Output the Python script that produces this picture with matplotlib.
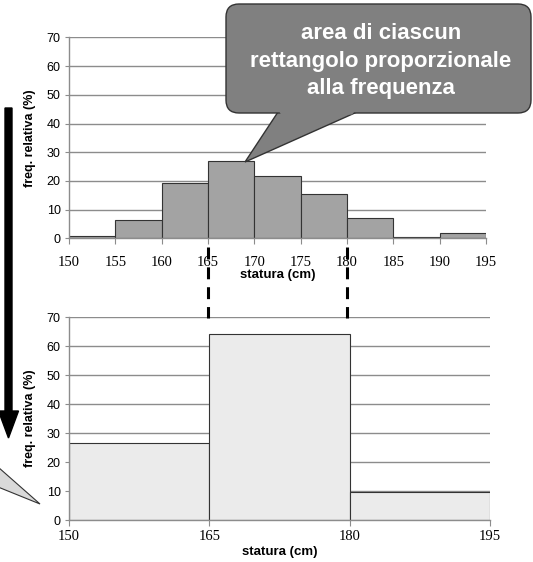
import matplotlib.pyplot as plt
from matplotlib.patches import FancyBboxPatch, Polygon, FancyArrow
from matplotlib.lines import Line2D
from matplotlib.transforms import Affine2D, blended_transform_factory

# class edges and relative frequencies (%) - 5 cm classes
edges_fine = [150, 155, 160, 165, 170, 175, 180, 185, 190, 195]
freq_fine = [0.8, 6.4, 19.2, 27.0, 21.7, 15.3, 7.0, 0.6, 1.7]

# grouped 15 cm classes
edges_wide = [150, 165, 180, 195]
freq_wide = [26.5, 64.0, 9.55]

yticks = [0, 10, 20, 30, 40, 50, 60, 70]
xlabel = "statura (cm)"
ylabel = "freq. relativa (%)"
callout = "area di ciascun\nrettangolo proporzionale\nalla frequenza"

W, H = 533, 562
fig = plt.figure(figsize=(W / 100, H / 100), dpi=100)
# pixel coords measured from top-left of the figure
pix = Affine2D().scale(1 / W, -1 / H).translate(0, 1) + fig.transFigure

grid_col = "#8c8c8c"
edge_col = "#333333"


def style_axes(ax, xt, label_y, tick_pad):
    ax.set_xlim(edges_fine[0], edges_fine[-1])
    ax.set_ylim(0, 70)
    ax.set_xticks(xt)
    ax.set_yticks(yticks)
    ax.set_axisbelow(True)
    ax.yaxis.grid(True, color=grid_col, lw=1)
    for s in ["top", "right"]:
        ax.spines[s].set_visible(False)
    for s in ["left", "bottom"]:
        ax.spines[s].set_color(grid_col)
        ax.spines[s].set_linewidth(1)
    ax.tick_params(axis="x", length=4, color=grid_col, pad=tick_pad)
    ax.tick_params(axis="y", length=3, color=grid_col, pad=3)
    for t in ax.get_xticklabels():
        t.set_fontfamily("Liberation Serif")
        t.set_fontsize(10.5)
    for t in ax.get_yticklabels():
        t.set_fontfamily("Liberation Sans")
        t.set_fontsize(9)
    ax.set_xlabel(xlabel, fontfamily="Liberation Sans", fontweight="bold", fontsize=9.5)
    ax.set_ylabel(ylabel, fontfamily="Liberation Sans", fontweight="bold", fontsize=9)
    ax.xaxis.set_label_coords(0.5, label_y)
    ax.yaxis.set_label_coords(-0.078, 0.5)


# top histogram
ax1 = fig.add_axes([0.1295, 0.576, 0.7824, 0.3573])
ax1.bar(edges_fine[:-1], freq_fine, width=5, align="edge",
        color="#a3a3a3", edgecolor=edge_col, lw=0.8)
style_axes(ax1, edges_fine, -0.155, 9)

# bottom histogram
ax2 = fig.add_axes([0.1295, 0.0747, 0.7899, 0.3612])
widths = [edges_wide[i + 1] - edges_wide[i] for i in range(len(freq_wide))]
ax2.bar(edges_wide[:-1], freq_wide, width=widths, align="edge",
        color="#ebebeb", edgecolor=edge_col, lw=0.8)
style_axes(ax2, edges_wide, -0.13, 3)

# dashed connectors at 165 and 180 (x in data units, y in pixels)
dash_tr = blended_transform_factory(ax1.transData, pix)
for xv in [165, 180]:
    fig.add_artist(Line2D([xv, xv], [247, 318], transform=dash_tr, color="black",
                          lw=2.2, linestyle=(0, (3.9, 2.6)), solid_capstyle="butt",
                          dash_capstyle="butt"))

# callout bubble
tail = Polygon([(278, 112), (245, 162), (357, 112)], closed=True, transform=pix,
               facecolor="#808080", edgecolor=edge_col, lw=1)
fig.add_artist(tail)
box = FancyBboxPatch((226, 4), 305, 109, boxstyle="round,pad=0,rounding_size=13",
                     transform=pix, facecolor="#808080", edgecolor=edge_col, lw=1)
fig.add_artist(box)
cover = Polygon([(279, 111), (355, 111), (352, 114.5), (281, 114.5)], closed=True,
                transform=pix, facecolor="#808080", edgecolor="none")
fig.add_artist(cover)
fig.text(381, 61, callout, transform=pix, ha="center", va="center",
         color="white", fontweight="bold", fontsize=16,
         fontfamily="Liberation Sans", linespacing=1.38)

# big arrow on the left
arr = FancyArrow(8.5, 108, 0, 330, width=7, head_width=20, head_length=27,
                 length_includes_head=True, transform=pix,
                 facecolor="black", edgecolor="black")
fig.add_artist(arr)

# tail of another callout, cut off at the left
tail2 = Polygon([(-2, 467), (40, 504), (-2, 487)], closed=True, transform=pix,
                facecolor="#d9d9d9", edgecolor=edge_col, lw=0.8)
fig.add_artist(tail2)

fig.savefig("out.png", dpi=100)
